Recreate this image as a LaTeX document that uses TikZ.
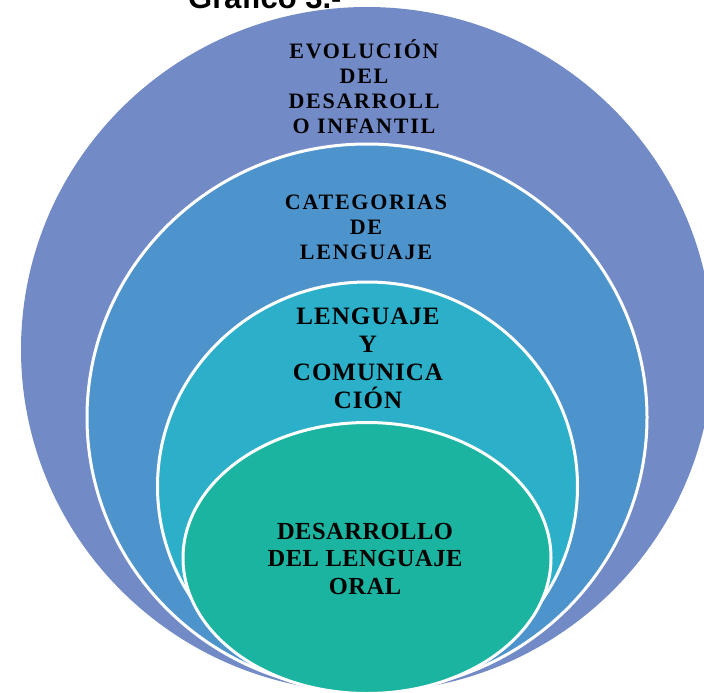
\documentclass[tikz,border=0pt]{standalone}
\usepackage{fontspec}
\setmainfont{Liberation Serif}
\newfontfamily\titlefont{Liberation Sans}
\newfontfamily\wideserif[LetterSpace=8]{Liberation Serif}
\newfontfamily\midserif[LetterSpace=4]{Liberation Serif}
\newfontfamily\narrowserif[LetterSpace=2]{Liberation Serif}
\definecolor{ringA}{RGB}{114,138,198}
\definecolor{ringB}{RGB}{78,148,204}
\definecolor{ringC}{RGB}{44,175,200}
\definecolor{ringD}{RGB}{27,180,160}
\tikzset{
  ring/.style={draw=white, line width=3pt},
  lblA/.style={anchor=base, align=center, inner sep=0pt, font=\wideserif\bfseries\fontsize{22}{25}\selectfont},
  lblB/.style={anchor=base, align=center, inner sep=0pt, font=\midserif\bfseries\fontsize{25}{27.7}\selectfont},
  lblC/.style={anchor=base, align=center, inner sep=0pt, font=\narrowserif\bfseries\fontsize{24.5}{27.5}\selectfont}
}
\begin{document}
\begin{tikzpicture}[x=1pt, y=-1pt]
\useasboundingbox (0,0) rectangle (704,693);
\clip (0,0) rectangle (704,693);
\fill[ringA] (367,349.5) ellipse [x radius=346, y radius=342.5];
\fill[ringB] (367,417.5) ellipse [x radius=280, y radius=273.5];
\draw[ring] (367,417.5) ellipse [x radius=280, y radius=273.5];
\fill[ringC] (367.5,486.5) ellipse [x radius=210, y radius=204.5];
\draw[ring] (367.5,486.5) ellipse [x radius=210, y radius=204.5];
\fill[ringD] (367,558) ellipse [x radius=184, y radius=135.5];
\draw[ring] (367,558) ellipse [x radius=184, y radius=135.5];
\node[anchor=base west, inner sep=0pt, font=\titlefont\bfseries\fontsize{31}{31}\selectfont] (title) at (188,9) {Gráfico 3.-};
\node[lblA] (evol) at (364,133) {EVOLUCIÓN\\DEL\\DESARROLL\\O INFANTIL};
\node[lblA] (categ) at (366,259) {CATEGORIAS\\DE\\LENGUAJE};
\node[lblB] (lengcom) at (368,408) {LENGUAJE\\Y\\COMUNICA\\CIÓN};
\node[lblC] (desarr) at (365,594) {DESARROLLO\\DEL LENGUAJE\\ORAL};
\end{tikzpicture}
\end{document}
